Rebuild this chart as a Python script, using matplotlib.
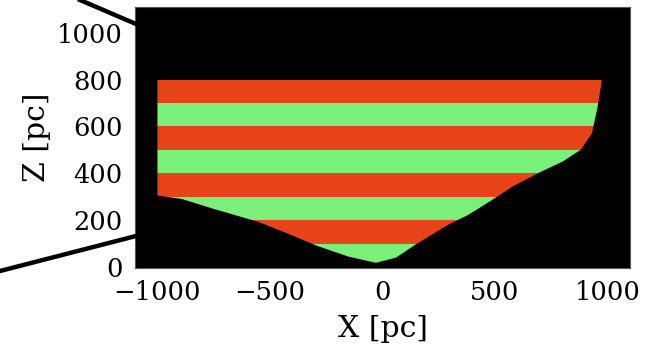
import matplotlib
matplotlib.use("Agg")
import matplotlib.pyplot as plt
from matplotlib.patches import Polygon
from matplotlib.lines import Line2D

plt.rcParams['font.family'] = ['DejaVu Serif']

# band boundaries in Z [pc] and colour of each band (bottom to top)
band_lo = [0, 100, 200, 300, 400, 500, 600, 700]
band_hi = [100, 200, 300, 400, 500, 600, 700, 800]
band_col = ['#7af07a', '#e8441a', '#7af07a', '#e8441a',
            '#7af07a', '#e8441a', '#7af07a', '#e8441a']

edge_x = [-1000, -1000, -890, -750, -550, -440, -290, -150, -30,
          60, 150, 290, 380, 480, 580, 700, 800, 880, 930, 955, 970, 975]
edge_z = [808, 305, 290, 248, 192, 150, 90, 44, 18,
          40, 98, 180, 222, 282, 345, 405, 450, 500, 570, 680, 770, 808]

xticks = [-1000, -500, 0, 500, 1000]
yticks = [0, 200, 400, 600, 800, 1000]

fig = plt.figure(figsize=(6.55, 3.48), dpi=100)
ax = fig.add_axes([0.206, 0.230, 0.756, 0.750])
ax.set_facecolor('black')

region = Polygon(list(zip(edge_x, edge_z)), closed=True,
                 facecolor='none', edgecolor='none')
ax.add_patch(region)
for lo, hi, c in zip(band_lo, band_hi, band_col):
    span = ax.axhspan(lo, hi, color=c, lw=0)
    span.set_clip_path(region)

ax.set_xlim(-1100, 1100)
ax.set_ylim(-4, 1110)
ax.set_xticks(xticks)
ax.set_yticks(yticks)
ax.tick_params(length=0, labelsize=18.5, pad=9)
ax.set_xlabel('X [pc]', fontsize=21.5, labelpad=7)
ax.set_ylabel('Z [pc]', fontsize=21.5, labelpad=4)
for s in ax.spines.values():
    s.set_color('#555555')
    s.set_linewidth(0.8)

# callout lines from the slide
W, H = 655, 348
fig.add_artist(Line2D([80 / W, 136 / W], [1 - 0 / H, 1 - 24 / H],
                      transform=fig.transFigure, color='black', lw=3.2))
fig.add_artist(Line2D([0 / W, 136 / W], [1 - 271 / H, 1 - 236 / H],
                      transform=fig.transFigure, color='black', lw=3.2))

fig.savefig('out.png', dpi=100)
